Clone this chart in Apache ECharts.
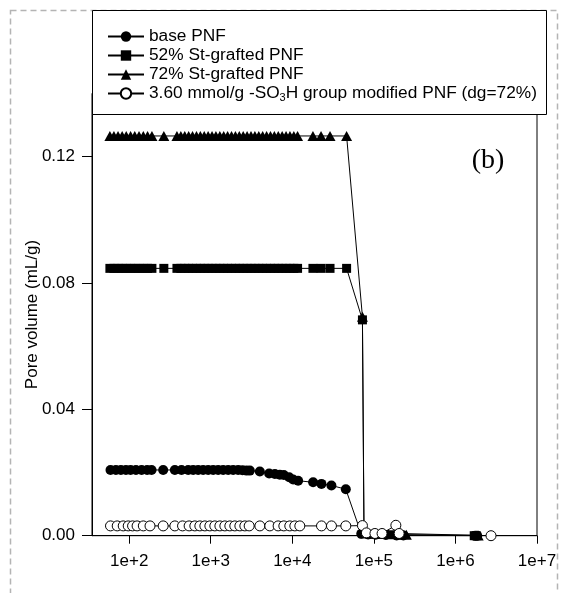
<!DOCTYPE html>
<html><head><meta charset="utf-8">
<script src="https://cdn.jsdelivr.net/npm/echarts@6/dist/echarts.min.js"></script>
<style>html,body{margin:0;padding:0;background:#fff}#c{width:561px;height:593px}</style>
</head><body><div id="c"></div>
<script>
// ---- data (pore diameter on log x, pore volume mL/g on y) ----
const seriesNames = ['base PNF', '52% St-grafted PNF', '72% St-grafted PNF', '3.60 mmol/g -SO3H group modified PNF (dg=72%)'];

const baseX = [59, 68.7, 79.1, 91.2, 104, 121, 142, 166, 188, 261, 363, 438, 529, 609, 701, 807, 930, 1071, 1233, 1420,
  1636, 1883, 2168, 2449, 2742, 3013, 3996, 5200, 6107, 7029, 7870, 9150, 10230, 11780, 17990, 22760, 30170, 45290,
  70000, 85000, 105000, 140000, 190000, 230000, 1750000, 1850000];
const baseY = [0.0208, 0.0208, 0.0208, 0.0208, 0.0208, 0.0208, 0.0208, 0.0208, 0.0208, 0.0208, 0.0208, 0.0208, 0.0208, 0.0208, 0.0208, 0.0208, 0.0208, 0.0208, 0.0208, 0.0208,
  0.0208, 0.0208, 0.0208, 0.0207, 0.0206, 0.0206, 0.0203, 0.0197, 0.0195, 0.0193, 0.0192, 0.0185, 0.0178, 0.0174, 0.0169, 0.0164, 0.0159, 0.0147,
  0.0006, 0.0004, 0.0003, 0.0002, 0.0001, 0.0001, 0.0, 0.0];

const sq52X = [58, 65, 73, 82, 92, 104, 117, 132, 149, 168, 190, 266, 385, 430, 480, 536, 598, 668, 745, 832,
  929, 1037, 1157, 1292, 1442, 1610, 1797, 2006, 2239, 2500, 2790, 3115, 3477, 3881, 4332, 4836, 5398, 6026, 6726, 7508,
  8381, 9355, 10443, 11600, 17900, 22500, 29000, 46300,
  72400, 75700, 95000, 120000, 160000, 210000, 1700000, 1800000];
const sq52Y = [0.0846, 0.0846, 0.0846, 0.0846, 0.0846, 0.0846, 0.0846, 0.0846, 0.0846, 0.0846, 0.0846, 0.0846, 0.0846, 0.0846, 0.0846, 0.0846, 0.0846, 0.0846, 0.0846, 0.0846,
  0.0846, 0.0846, 0.0846, 0.0846, 0.0846, 0.0846, 0.0846, 0.0846, 0.0846, 0.0846, 0.0846, 0.0846, 0.0846, 0.0846, 0.0846, 0.0846, 0.0846, 0.0846, 0.0846, 0.0846,
  0.0846, 0.0846, 0.0846, 0.0846, 0.0846, 0.0846, 0.0846, 0.0846,
  0.0683, 0.0006, 0.0005, 0.0004, 0.0003, 0.0002, 0.0, 0.0];

const tri72X = [58, 65, 73, 82, 92, 104, 117, 132, 149, 168, 190, 266, 385, 430, 480, 536, 598, 668, 745, 832,
  929, 1037, 1157, 1292, 1442, 1610, 1797, 2006, 2239, 2500, 2790, 3115, 3477, 3881, 4332, 4836, 5398, 6026, 6726, 7508,
  8381, 9355, 10443, 11600, 17900, 22500, 29000, 46300,
  72400, 75700, 100000, 150000, 205000, 250000, 1900000];
const tri72Y = [0.1265, 0.1265, 0.1265, 0.1265, 0.1265, 0.1265, 0.1265, 0.1265, 0.1265, 0.1265, 0.1265, 0.1265, 0.1265, 0.1265, 0.1265, 0.1265, 0.1265, 0.1265, 0.1265, 0.1265,
  0.1265, 0.1265, 0.1265, 0.1265, 0.1265, 0.1265, 0.1265, 0.1265, 0.1265, 0.1265, 0.1265, 0.1265, 0.1265, 0.1265, 0.1265, 0.1265, 0.1265, 0.1265, 0.1265, 0.1265,
  0.1265, 0.1265, 0.1265, 0.1265, 0.1265, 0.1265, 0.1265, 0.1265,
  0.0693, 0.0008, 0.0006, 0.0005, 0.0004, 0.0003, 0.0001];

const so3hX = [59, 71.3, 84.5, 97.3, 110, 125, 149, 180, 261, 363, 451, 543, 638, 735, 847, 975, 1122, 1294, 1489, 1714,
  1972, 2275, 2618, 2958, 4000, 5297, 6699, 7870, 9311, 10740, 12360, 22800, 30200, 45290,
  72400, 81000, 103000, 126000, 186000, 204000, 2730000];
const so3hY = [0.0031, 0.0031, 0.0031, 0.0031, 0.0031, 0.0031, 0.0031, 0.0031, 0.0031, 0.0031, 0.0031, 0.0031, 0.0031, 0.0031, 0.0031, 0.0031, 0.0031, 0.0031, 0.0031, 0.0031,
  0.0031, 0.0031, 0.0031, 0.0031, 0.0031, 0.0031, 0.0031, 0.0031, 0.0031, 0.0031, 0.0031, 0.0031, 0.0031, 0.0031,
  0.0032, 0.0009, 0.0007, 0.0007, 0.0033, 0.0007, 0.0];

const xTicks = [100, 1000, 10000, 100000, 1000000, 10000000];
const yTicks = [0, 0.04, 0.08, 0.12];

// ---- chart ----
const FONT = '"Liberation Sans", Arial, sans-serif';
const zip = (xs, ys) => xs.map((x, i) => [x, ys[i]]);
const chart = echarts.init(document.getElementById('c'), null, {renderer: 'canvas'});

function mk(name, xs, ys, symbol, size, fill) {
  return {
    name, type: 'line', data: zip(xs, ys), symbol, symbolSize: size,
    lineStyle: {color: '#000', width: 1},
    itemStyle: {color: fill, borderColor: '#000', borderWidth: fill === '#fff' ? 1 : 0},
    emphasis: {disabled: true}, animation: false, z: 2
  };
}

chart.setOption({
  animation: false,
  backgroundColor: '#fff',
  grid: {left: 92, right: 24, top: 93.3, bottom: 57.3, show: true, borderColor: '#000', borderWidth: 1, backgroundColor: 'transparent'},
  xAxis: {
    type: 'log', logBase: 10, min: 35, max: 10000000,
    axisLine: {lineStyle: {color: '#000', width: 1}},
    axisTick: {length: 8, lineStyle: {color: '#000'}, customValues: xTicks},
    axisLabel: {customValues: xTicks, color: '#000', fontSize: 17, fontFamily: FONT, margin: 17,
      formatter: v => '1e+' + Math.round(Math.log10(v))},
    splitLine: {show: false}, minorTick: {show: false}
  },
  yAxis: {
    type: 'value', min: 0, max: 0.14,
    name: 'Pore volume (mL/g)', nameLocation: 'middle', nameGap: 51, nameMoveOverlap: false,
    nameTextStyle: {color: '#000', fontSize: 17, fontFamily: FONT},
    axisLine: {show: true, lineStyle: {color: '#000', width: 1}},
    axisTick: {show: true, length: 10, lineStyle: {color: '#000'}, customValues: yTicks},
    axisLabel: {customValues: yTicks, color: '#000', fontSize: 17, fontFamily: FONT, margin: 17,
      formatter: v => v.toFixed(2)},
    splitLine: {show: false}
  },
  legend: {
    orient: 'vertical', left: 102, top: 23, itemWidth: 36, itemHeight: 13, itemGap: 2,
    data: seriesNames, selectedMode: false, z: 20,
    textStyle: {color: '#000', fontSize: 17.3, fontFamily: FONT, lineHeight: 17,
      rich: {sub: {fontSize: 11, fontFamily: FONT, color: '#000', padding: [8, 0, 0, 0]}}},
    formatter: name => name.replace('SO3H', 'SO{sub|3}H')
  },
  graphic: [
    {type: 'rect', z: 1, silent: true, shape: {x: 10.5, y: 10.5, width: 547, height: 620},
      style: {fill: 'none', stroke: '#b4b4b4', lineWidth: 1.5, lineDash: [6, 4]}},
    {type: 'rect', z: 15, silent: true, shape: {x: 92.5, y: 10.5, width: 454, height: 104},
      style: {fill: '#fff', stroke: '#000', lineWidth: 1}},
    {type: 'text', z: 15, silent: true, x: 488, y: 161,
      style: {text: '(b)', font: '28px "Liberation Serif", "Times New Roman", serif', fill: '#000', textAlign: 'center', textVerticalAlign: 'middle'}}
  ],
  series: [
    mk(seriesNames[0], baseX, baseY, 'circle', 10, '#000'),
    mk(seriesNames[1], sq52X, sq52Y, 'rect', 9, '#000'),
    mk(seriesNames[2], tri72X, tri72Y, 'triangle', [11, 10], '#000'),
    mk(seriesNames[3], so3hX, so3hY, 'circle', 10, '#fff')
  ]
});
</script></body></html>
